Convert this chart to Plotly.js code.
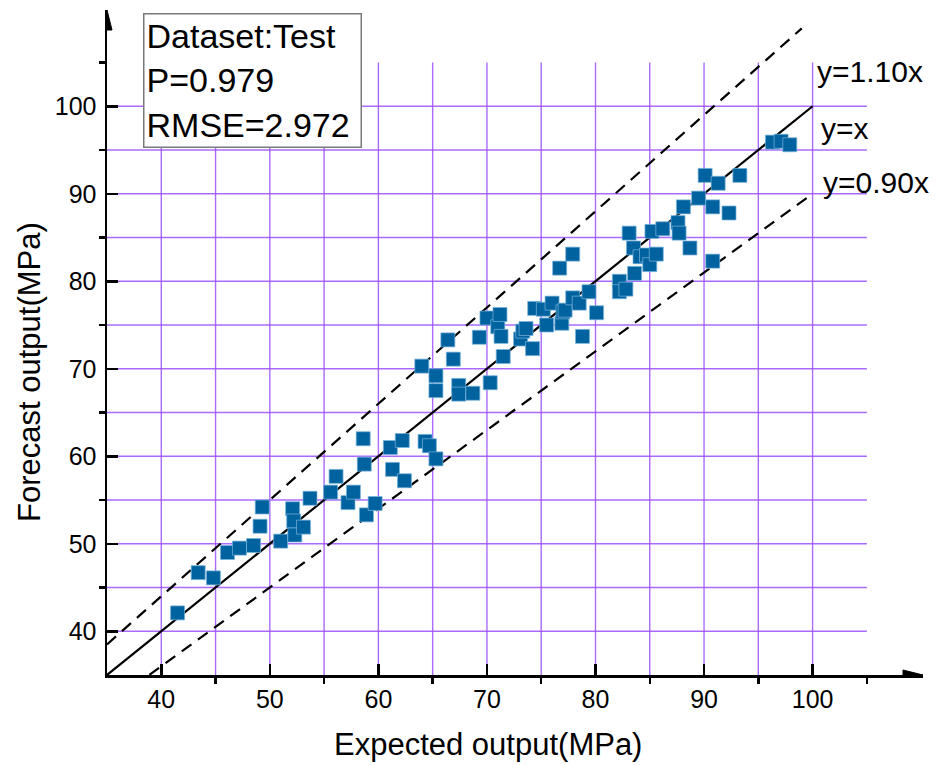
<!DOCTYPE html>
<html>
<head>
<meta charset="utf-8">
<script src="https://cdn.plot.ly/plotly-3.0.1.min.js"></script>
<style>html,body{margin:0;padding:0;background:#fff;}#chart{width:947px;height:765px;}</style>
</head>
<body>
<div id="chart"></div>
<script>
// ---- data ----
const expected = [41.5,43.4,44.8,46.1,47.2,48.5,49.1,49.3,51.0,52.1,52.2,52.3,53.1,53.7,55.6,56.1,57.2,57.7,58.6,58.7,58.9,59.7,61.1,61.3,62.2,62.4,64.0,64.3,64.7,65.3,65.3,65.3,66.4,66.9,67.4,67.4,68.7,69.3,70.0,70.3,71.0,71.2,71.3,71.5,73.1,73.3,73.6,74.2,74.4,75.5,75.2,76.0,76.7,76.9,77.0,77.2,77.9,77.9,78.5,78.8,79.4,80.1,82.2,82.2,82.8,83.1,83.5,83.6,84.1,84.7,85.0,85.2,85.6,86.2,87.6,87.7,88.1,88.7,89.5,90.1,90.8,90.8,91.3,92.3,93.3,96.3,97.1,97.9];
const forecast = [42.1,46.7,46.1,49.0,49.5,49.8,52.0,54.2,50.3,54.0,52.6,51.0,51.9,55.2,55.9,57.7,54.7,55.9,62.0,59.1,53.3,54.6,61.0,58.5,61.8,57.2,70.3,61.7,61.2,59.7,69.2,67.5,73.3,71.1,68.1,67.1,67.2,73.6,75.8,68.4,74.8,76.2,73.7,71.4,73.4,74.3,74.6,72.3,76.9,75.0,76.8,77.5,81.5,75.2,76.5,76.7,83.1,78.1,77.5,73.7,78.8,76.4,80.0,78.8,79.1,85.5,83.8,80.9,82.8,83.0,81.9,85.7,83.1,86.0,86.7,85.5,88.5,83.8,89.5,92.1,88.5,82.3,91.2,87.8,92.1,95.9,96.0,95.6];
const refFactors = [1.10, 1.00, 0.90];
const refLabels = ["y=1.10x", "y=x", "y=0.90x"];
const refXStart = [35, 35, 38.9];
const refXEnd = [99, 100, 100];
const xTicks = [40,50,60,70,80,90,100];
const yTicks = [40,50,60,70,80,90,100];
const minorTicks = [35,45,55,65,75,85,95,105];
const gridVals = [40,45,50,55,60,65,70,75,80,85,90,95,100];
const statLines = ["Dataset:Test", "P=0.979", "RMSE=2.972"];
const xTitle = "Expected output(MPa)";
const yTitle = "Forecast output(MPa)";

// ---- geometry ----
const W = 947, H = 765;
const M = {l:107, r:24, t:10, b:90};
const PW = W - M.l - M.r, PH = H - M.t - M.b;
const xr = [35, 110.17], yr = [35, 111.0];
const gridMax = 105;
const px2paperX = px => (px - M.l) / PW;
const px2paperY = py => (H - M.b - py) / PH;
const pxPerX = PW / (xr[1]-xr[0]);
const pxPerY = PH / (yr[1]-yr[0]);

const FONT = "Liberation Sans, Arial, sans-serif";
const gridColor = "rgba(155,80,250,0.85)";

const traces = [];
refFactors.forEach((k, i) => {
  traces.push({
    type: 'scatter', mode: 'lines',
    x: [refXStart[i], refXEnd[i]],
    y: [refXStart[i]*k, refXEnd[i]*k],
    line: {color: '#000', width: 2.2, dash: k === 1 ? 'solid' : '12px,8px'},
    hoverinfo: 'skip', showlegend: false, cliponaxis: false
  });
});
traces.push({
  type: 'scatter', mode: 'markers',
  x: expected, y: forecast,
  marker: {symbol: 'square', size: 14, color: '#00629E', line: {color: 'rgba(120,180,220,0.9)', width: 0.8}},
  showlegend: false
});

const shapes = [];
gridVals.forEach(v => {
  shapes.push({type:'line', xref:'x', yref:'y', x0:v, x1:v, y0:yr[0], y1:gridMax, line:{color:gridColor, width:1.4}, layer:'below'});
  shapes.push({type:'line', xref:'x', yref:'y', x0:xr[0], x1:gridMax, y0:v, y1:v, line:{color:gridColor, width:1.4}, layer:'below'});
});
// arrows at the axis ends
const aL = 20, aH = 5;
shapes.push({type:'path', xref:'x', yref:'y', fillcolor:'#000', line:{color:'#000', width:1},
  path:`M ${xr[1]} ${yr[0]} L ${xr[1]-aL/pxPerX} ${yr[0]+aH/pxPerY} L ${xr[1]-aL/pxPerX} ${yr[0]-aH/pxPerY} Z`});
shapes.push({type:'path', xref:'x', yref:'y', fillcolor:'#000', line:{color:'#000', width:1},
  path:`M ${xr[0]} ${yr[1]} L ${xr[0]-aH/pxPerX} ${yr[1]-aL/pxPerY} L ${xr[0]+aH/pxPerX} ${yr[1]-aL/pxPerY} Z`});

const annotations = [];
annotations.push({
  xref:'paper', yref:'paper', x: px2paperX(142.7), y: px2paperY(12.7),
  xanchor:'left', yanchor:'top', showarrow:false, align:'left',
  text: statLines.join('<br>'),
  font:{family:FONT, size:34, color:'#000'},
  bordercolor:'#7a7a7a', borderwidth:1.5, borderpad:2, bgcolor:'#fff',
  width: 212, height: 128
});
const refLabelPos = [[815,72],[819,128],[821,183]];
refLabels.forEach((t,i) => {
  annotations.push({xref:'paper', yref:'paper', x: px2paperX(refLabelPos[i][0]), y: px2paperY(refLabelPos[i][1]),
    xanchor:'left', yanchor:'middle', showarrow:false, text:t, font:{family:FONT, size:30, color:'#000'}});
});
annotations.push({xref:'paper', yref:'paper', x: px2paperX(488), y: px2paperY(745), xanchor:'center', yanchor:'middle',
  showarrow:false, text:xTitle, font:{family:FONT, size:31, color:'#000'}});
annotations.push({xref:'paper', yref:'paper', x: px2paperX(30), y: px2paperY(372), xanchor:'center', yanchor:'middle',
  showarrow:false, textangle:-90, text:yTitle, font:{family:FONT, size:31, color:'#000'}});

const axisCommon = {
  showgrid:false, zeroline:false, showline:true, linecolor:'#000', linewidth:2.5,
  ticks:'inside', ticklen:11, tickwidth:2.5, tickcolor:'#000',
  tickfont:{family:FONT, size:25, color:'#000'},
  tickmode:'array',
  minor:{tickmode:'array', tickvals:minorTicks, ticks:'outside', ticklen:6, tickwidth:2.5, tickcolor:'#000', showgrid:false},
  fixedrange:true
};

const layout = {
  width: W, height: H,
  margin: M,
  paper_bgcolor:'#fff', plot_bgcolor:'#fff',
  showlegend:false,
  xaxis: Object.assign({}, axisCommon, {range: xr, tickvals: xTicks, ticktext: xTicks.map(String)}),
  yaxis: Object.assign({}, axisCommon, {range: yr, tickvals: yTicks, ticktext: yTicks.map(String), ticklabelstandoff: 3}),
  shapes: shapes,
  annotations: annotations
};

Plotly.newPlot('chart', traces, layout, {staticPlot:true, displayModeBar:false});
</script>
</body>
</html>
